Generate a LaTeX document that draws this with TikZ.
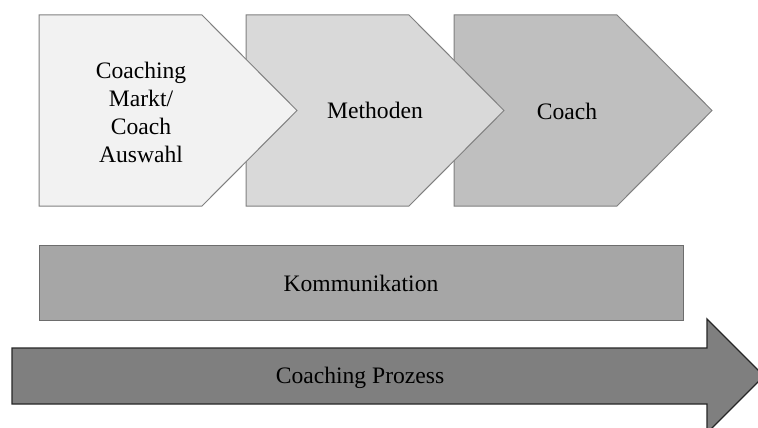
\documentclass[tikz,border=0pt]{standalone}
\usepackage{fontspec}
\setmainfont{Liberation Serif}
\usepackage{xcolor}
\definecolor{stepA}{HTML}{F2F2F2}
\definecolor{stepB}{HTML}{D9D9D9}
\definecolor{stepC}{HTML}{BFBFBF}
\definecolor{kommfill}{HTML}{A6A6A6}
\definecolor{procfill}{HTML}{7F7F7F}
\definecolor{stepline}{HTML}{808080}
\definecolor{procline}{HTML}{262626}

\begin{document}
\begin{tikzpicture}[
    x=1pt, y=-1pt,
    chev/.style={draw=stepline, line width=1pt, line join=miter},
    lbl/.style={font=\fontsize{23.6}{28}\selectfont, align=center, inner sep=0pt}
  ]
    \useasboundingbox (0,0) rectangle (758,428);
    \clip (0,0) rectangle (758,428);
    % phases (drawn back to front)
    \filldraw[chev, fill=stepC] (454,15) -- (617,15) -- (712,110.5)
      -- (617,206) -- (454,206) -- cycle;
    \filldraw[chev, fill=stepB] (246,15) -- (409,15) -- (504,110.5)
      -- (409,206) -- (246,206) -- cycle;
    \filldraw[chev, fill=stepA] (39,15) -- (202,15) -- (297,110.5)
      -- (202,206) -- (39,206) -- cycle;
    \node[lbl] (markt) at (141,112)
      {Coaching\\Markt/\\Coach\\Auswahl};
    \node[lbl] (methoden) at (375,110) {Methoden};
    \node[lbl] (coach) at (567,111) {Coach};
    % communication bar
    \filldraw[draw=stepline!85!black, line width=1pt, fill=kommfill]
      (39,245) rectangle (683,320);
    \node[lbl] (komm) at (361,283) {Kommunikation};
    % process arrow
    \filldraw[draw=procline, line width=1.3pt, fill=procfill, line join=miter]
      (12,348) -- (707,348) -- (707,319) -- (764,376)
      -- (707,433) -- (707,404) -- (12,404) -- cycle;
    \node[lbl] (prozess) at (360,378) {Coaching Prozess};
  \end{tikzpicture}
\end{document}
